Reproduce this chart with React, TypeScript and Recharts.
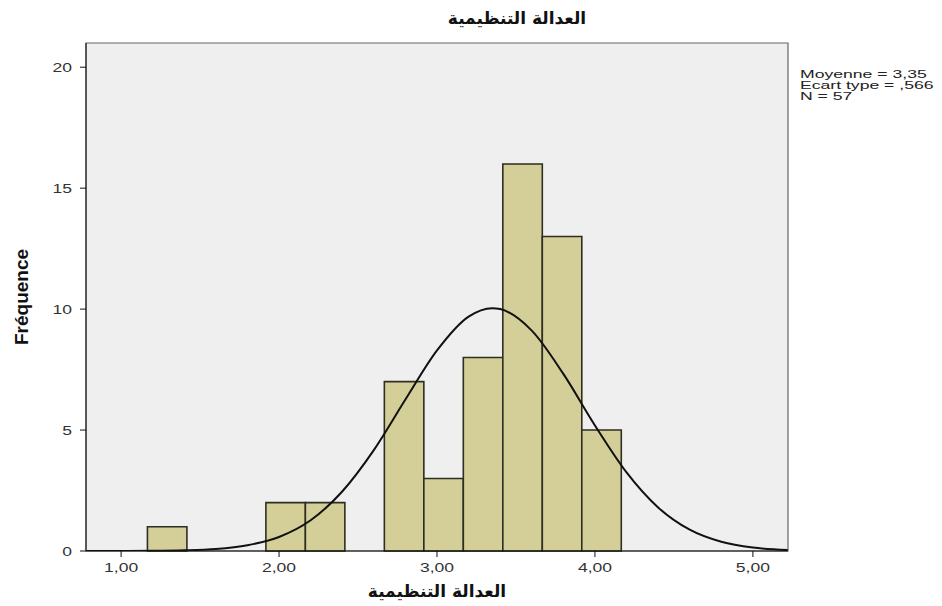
import { ComposedChart, Line, XAxis, YAxis, ReferenceArea } from 'recharts';

// histogram bins (lower / upper bounds) and their frequencies
const binLow = [1.1667, 1.9167, 2.1667, 2.6667, 2.9167, 3.1667, 3.4167, 3.6667, 3.9167];
const binHigh = [1.4167, 2.1667, 2.4167, 2.9167, 3.1667, 3.4167, 3.6667, 3.9167, 4.1667];
const binCount = [1, 2, 2, 7, 3, 8, 16, 13, 5];

// normal curve
const curveX = [0.78, 1.0, 1.2, 1.4, 1.6, 1.8, 2.0, 2.2, 2.4, 2.6, 2.8, 3.0, 3.2, 3.35, 3.4, 3.6, 3.8, 4.0, 4.2, 4.4, 4.6, 4.8, 5.0, 5.22];
const curveY = [0.0, 0.002, 0.007, 0.027, 0.084, 0.24, 0.58, 1.27, 2.46, 4.17, 6.26, 8.29, 9.69, 10.04, 10.0, 9.11, 7.32, 5.19, 3.25, 1.8, 0.88, 0.38, 0.14, 0.04];

const xTicks = [1, 2, 3, 4, 5];
const yTicks = [0, 5, 10, 15, 20];

const statsLines = ['Moyenne = 3,35', 'Ecart type = ,566', 'N = 57'];
const title = 'العدالة التنظيمية';
const xLabel = 'العدالة التنظيمية';
const yLabel = 'Fréquence';

const curveData = curveX.map((x, i) => ({ x, y: curveY[i] }));

const fmt = (v: number) => v.toFixed(2).replace('.', ',');

const XTick = (props: any) => {
  const { x, y, payload } = props;
  return (
    <g transform={`translate(${x},${y})`}>
      <text x={0} y={0} dy={13} textAnchor="middle" transform="scale(1.3,1)" fill="#333" fontSize={13.5} fontFamily="Liberation Sans, Arial, sans-serif">
        {fmt(payload.value)}
      </text>
    </g>
  );
};

const YTick = (props: any) => {
  const { x, y, payload } = props;
  return (
    <g transform={`translate(${x - 6},${y})`}>
      <text x={0} y={0} dy={5} textAnchor="end" transform="scale(1.3,1)" fill="#333" fontSize={13.5} fontFamily="Liberation Sans, Arial, sans-serif">
        {payload.value}
      </text>
    </g>
  );
};

export default function App() {
  return (
    <div style={{ position: 'absolute', left: 0, top: 0, width: 942, height: 606, background: '#fff', fontFamily: 'Liberation Sans, Arial, sans-serif' }}>
      <ComposedChart width={942} height={606} data={curveData} margin={{ top: 43, right: 154, bottom: 25, left: 26 }}>
        <XAxis
          dataKey="x"
          type="number"
          domain={[0.7778, 5.2222]}
          ticks={xTicks}
          tick={<XTick />}
          tickSize={6}
          height={30}
          stroke="#111"
          allowDataOverflow
        />
        <YAxis
          type="number"
          domain={[0, 21]}
          ticks={yTicks}
          tick={<YTick />}
          tickSize={6}
          width={60}
          stroke="#111"
          allowDataOverflow
        />
        <ReferenceArea x1={0.7778} x2={5.2222} y1={0} y2={21} fill="#efefef" fillOpacity={1} stroke="#666" strokeWidth={1.2} />
        {binLow.map((lo, i) => (
          <ReferenceArea
            key={i}
            x1={lo}
            x2={binHigh[i]}
            y1={0}
            y2={binCount[i]}
            fill="#d4cf98"
            fillOpacity={1}
            stroke="#2e2e22"
            strokeWidth={1.6}
          />
        ))}
        <Line type="monotone" dataKey="y" stroke="#111" strokeWidth={2} dot={false} isAnimationActive={false} />
      </ComposedChart>

      <div style={{ position: 'absolute', left: 517, top: 18, transform: 'translate(-50%,-50%)', fontSize: 17, fontWeight: 'bold', fontFamily: 'DejaVu Sans, sans-serif', color: '#111', whiteSpace: 'nowrap' }}>
        {title}
      </div>
      <div style={{ position: 'absolute', left: 437, top: 591, transform: 'translate(-50%,-50%)', fontSize: 17, fontWeight: 'bold', fontFamily: 'DejaVu Sans, sans-serif', color: '#111', whiteSpace: 'nowrap' }}>
        {xLabel}
      </div>
      <div style={{ position: 'absolute', left: 22, top: 297, transform: 'translate(-50%,-50%) rotate(-90deg)', fontSize: 19, fontWeight: 'bold', color: '#111', whiteSpace: 'nowrap' }}>
        {yLabel}
      </div>
      <div style={{ position: 'absolute', left: 800, top: 69, transformOrigin: '0 0', transform: 'scale(1.6,1)', fontSize: 11, lineHeight: '11px', color: '#222', whiteSpace: 'nowrap' }}>
        {statsLines.map((s, i) => (
          <div key={i}>{s}</div>
        ))}
      </div>
    </div>
  );
}
